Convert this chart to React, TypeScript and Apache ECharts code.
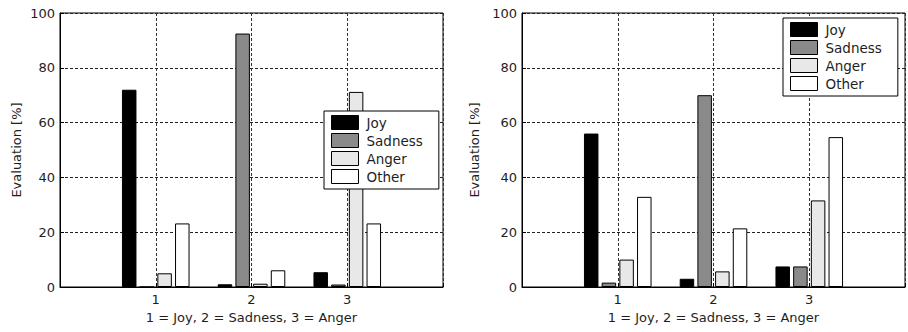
import React, { useEffect, useRef } from "react";
import * as echarts from "echarts";

const groups = [1, 2, 3];
const seriesNames = ["Joy", "Sadness", "Anger", "Other"];
const seriesColors = ["#000000", "#8a8a8a", "#e8e8e8", "#ffffff"];

// Left chart values [%]
const leftJoy = [72, 1, 5.4];
const leftSadness = [0, 92.5, 0.9];
const leftAnger = [5, 1.2, 71.2];
const leftOther = [23.2, 6.1, 23.2];

// Right chart values [%]
const rightJoy = [56, 3, 7.5];
const rightSadness = [1.6, 70, 7.5];
const rightAnger = [10, 5.7, 31.6];
const rightOther = [32.9, 21.4, 54.7];

const xTickLabels = ["1", "2", "3"];
const yTicks = [0, 20, 40, 60, 80, 100];
const xAxisTitle = "1 = Joy, 2 = Sadness, 3 = Anger";
const yAxisTitle = "Evaluation [%]";

const FONT = "DejaVu Sans";
const TEXT = "#1e1e1e";

export default function App() {
  const ref = useRef<HTMLDivElement>(null);
  useEffect(() => {
    if (!ref.current) return;
    const chart = echarts.init(ref.current, undefined, { renderer: "svg" });
    const leftData = [leftJoy, leftSadness, leftAnger, leftOther];
    const rightData = [rightJoy, rightSadness, rightAnger, rightOther];

    const mkX = (gridIndex: number) => ({
      type: "value",
      gridIndex,
      min: 0,
      max: 4,
      interval: 1,
      name: xAxisTitle,
      nameLocation: "middle",
      nameGap: 24,
      nameTextStyle: { fontFamily: FONT, fontSize: 13, color: TEXT },
      axisLine: { show: true, onZero: false, lineStyle: { color: "#000", width: 1 } },
      axisTick: { show: true, inside: true, length: 4, lineStyle: { color: "#000" } },
      axisLabel: {
        fontFamily: FONT,
        fontSize: 13,
        color: TEXT,
        margin: 6,
        formatter: (v: number) => {
          const i = groups.indexOf(v);
          return i >= 0 ? xTickLabels[i] : "";
        },
      },
      splitLine: { show: true, lineStyle: { color: "#333", type: [3, 2], width: 1 } },
    });
    const mkY = (gridIndex: number, nameGap: number) => ({
      type: "value",
      gridIndex,
      min: yTicks[0],
      max: yTicks[yTicks.length - 1],
      interval: 20,
      name: yAxisTitle,
      nameLocation: "middle",
      nameGap,
      nameTextStyle: { fontFamily: FONT, fontSize: 13, color: TEXT },
      axisLine: { show: true, lineStyle: { color: "#000", width: 1 } },
      axisTick: { show: true, inside: true, length: 4, lineStyle: { color: "#000" } },
      axisLabel: { fontFamily: FONT, fontSize: 13, color: TEXT, margin: 5 },
      splitLine: { show: true, lineStyle: { color: "#222", type: [3, 2], width: 1 } },
    });
    const mkSeries = (data: number[][], idx: number) =>
      seriesNames.map((name, s) => ({
        type: "bar",
        name,
        xAxisIndex: idx,
        yAxisIndex: idx,
        barWidth: 14.5,
        barGap: "22%",
        data: groups.map((g, i) => [g, data[s][i]]),
        itemStyle: { color: seriesColors[s], borderColor: "#000", borderWidth: 1 },
      }));
    const mkLegend = (left: number, top: number) => ({
      show: true,
      orient: "vertical",
      left,
      top,
      data: seriesNames,
      icon: "rect",
      itemWidth: 27,
      itemHeight: 14,
      itemGap: 3,
      padding: [4, 16, 5, 7],
      backgroundColor: "#fff",
      borderColor: "#000",
      borderWidth: 1,
      borderRadius: 0,
      selectedMode: false,
      itemStyle: { borderColor: "#000", borderWidth: 1 },
      textStyle: { fontFamily: FONT, fontSize: 13.5, color: TEXT, padding: [0, 0, 0, 3] },
    });

    chart.setOption({
      animation: false,
      backgroundColor: "#fff",
      grid: [
        { left: 60, top: 13, width: 383, height: 274, show: true, borderColor: "#000", borderWidth: 1, backgroundColor: "#fff" },
        { left: 522, top: 13, width: 383, height: 274, show: true, borderColor: "#000", borderWidth: 1, backgroundColor: "#fff" },
      ],
      xAxis: [mkX(0), mkX(1)],
      yAxis: [mkY(0, 37), mkY(1, 41)],
      legend: [mkLegend(324, 111), mkLegend(783, 18)],
      series: [...mkSeries(leftData, 0), ...mkSeries(rightData, 1)],
    });
    return () => chart.dispose();
  }, []);
  return (
    <div
      ref={ref}
      style={{ position: "absolute", left: 0, top: 0, width: 908, height: 332, background: "#fff" }}
    />
  );
}
